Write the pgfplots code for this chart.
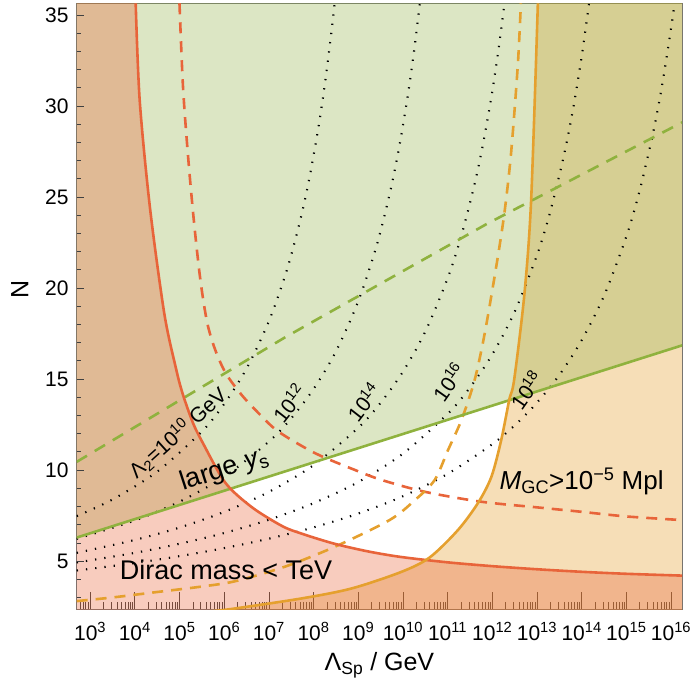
\documentclass[border=0pt]{standalone}
\usepackage{fontspec}
\setmainfont{Liberation Sans}
\usepackage{pgfplots}
\pgfplotsset{compat=1.18}

\definecolor{redl}{RGB}{232,100,58}
\definecolor{orl}{RGB}{229,160,46}
\definecolor{grl}{RGB}{143,178,62}
\definecolor{redf}{RGB}{233,96,52}
\definecolor{grf}{RGB}{146,177,71}
\definecolor{orf}{RGB}{227,155,36}

\def\minorlist{2.5}
\foreach \n in {2,...,16}{\foreach \m in {0.30103,0.47712,0.60206,0.69897,0.77815,0.84510,0.90309,0.95424}{\pgfmathsetmacro\v{\n+\m}\xdef\minorlist{\minorlist,\v}}}

\pgfplotsset{frame/.style={
  at={(0,0)}, anchor=south west, scale only axis,
  width=605.5pt, height=606pt,
  xmin=2.7, xmax=16.25, ymin=2.35, ymax=35.64,
  tick align=inside, tick pos=left,
  tick style={black!75, line width=0.7pt},
  /pgf/number format/assume math mode=true,
  tick label style={font=\fontsize{21}{24}\selectfont},
}}

\begin{document}
\begin{tikzpicture}
\useasboundingbox (-76.7pt,-74.7pt) rectangle (615.3pt,609.3pt);
\begin{axis}[frame,
  axis line style={draw=black!55, line width=0.8pt},
  xtick={3,4,5,6,7,8,9,10,11,12,13,14,15,16},
  xticklabels={10\textsuperscript{3},10\textsuperscript{4},10\textsuperscript{5},10\textsuperscript{6},10\textsuperscript{7},10\textsuperscript{8},10\textsuperscript{9},10\textsuperscript{10},10\textsuperscript{11},10\textsuperscript{12},10\textsuperscript{13},10\textsuperscript{14},10\textsuperscript{15},10\textsuperscript{16}},
  minor xtick/.expanded=\minorlist,
  ytick=\empty,
  major tick length=17pt, minor tick length=7.5pt,
  xticklabel style={anchor=base, inner sep=0pt, yshift=-30.7pt},
  xlabel={Λ\textsubscript{Sp} / GeV},
  ylabel={N},
  label style={font=\fontsize{25}{30}\selectfont},
  xlabel style={at={(axis description cs:0.5,-0.092)}, anchor=center},
  ylabel style={at={(axis description cs:-0.094,0.527)}, anchor=center, rotate=0},
]
% ---- regions ----
\addplot[draw=none, fill=orf, fill opacity=0.33] coordinates {
 (5.5,2.2) (6.11,2.35) (7.74,2.95) (8.86,3.5) (9.97,4.41) (10.6,5.2) (11.23,6.7) (11.68,8.19) (11.98,9.63) (12.2,11.65) (12.38,13.86) (12.49,14.97) (12.72,19.7) (12.87,24.86) (13.02,35.64) (13.03,36.5) (16.5,36.5) (16.5,2.0) (5.5,2.0)} -- cycle;
\addplot[draw=none, fill=grf, fill opacity=0.32] coordinates {
 (2.6,6.21) (16.4,16.97) (16.4,36.5) (2.6,36.5)} -- cycle;
\addplot[draw=none, fill=redf, fill opacity=0.32] coordinates {
 (2.6,36.5) (3.98,36.5) (4.02,35.64) (4.11,30.3) (4.34,24.4) (4.66,18.6) (4.92,15.6) (5.07,14.2) (5.3,12.6) (5.52,11.5) (6.03,9.29) (6.63,7.94) (7.3,6.92) (7.74,6.5) (8.47,5.95) (9.24,5.52) (9.97,5.22) (11,4.93) (12,4.72) (13,4.55) (14,4.41) (15,4.3) (16.25,4.2) (16.5,4.18) (16.5,2.0) (2.6,2.0)} -- cycle;
% ---- dotted contours (Lambda_2 = 10^10 ... 10^18 GeV) ----
\tikzset{dotc/.style={black, line width=2.1pt, dash pattern=on 1.3pt off 8pt}}
\addplot[dotc, smooth] coordinates {(2.7,7.47) (3.5,8.38) (4.5,9.91) (5.5,12.11) (6.0,13.63) (6.5,15.57) (7.0,18.17) (7.4,20.96) (7.7,23.70) (7.9,25.95) (8.1,28.68) (8.25,31.14) (8.4,34.06) (8.471,35.64)};
\addplot[dotc, smooth] coordinates {(2.7,6.22) (4,7.23) (5,8.26) (6,9.63) (7,11.56) (7.5,12.84) (8,14.45) (8.5,16.51) (9,19.27) (9.4,22.23) (9.7,25.13) (9.9,27.52) (10.1,30.42) (10.25,33.03) (10.378,35.64)};
\addplot[dotc, smooth] coordinates {(2.7,5.45) (4,6.16) (5,6.84) (6,7.70) (7,8.80) (8,10.27) (9,12.32) (9.5,13.69) (10,15.4) (10.5,17.6) (11,20.53) (11.3,22.81) (11.6,25.67) (11.8,28.0) (12.0,30.8) (12.15,33.3) (12.272,35.64)};
\addplot[dotc, smooth] coordinates {(2.7,4.92) (4,5.45) (5,5.95) (6,6.54) (7,7.27) (8,8.18) (9,9.34) (10,10.9) (11,13.08) (11.5,14.53) (12,16.35) (12.5,18.69) (13,21.8) (13.3,24.22) (13.6,27.25) (13.8,29.73) (14.0,32.7) (14.165,35.64)};
\addplot[dotc, smooth] coordinates {(2.7,4.48) (4,4.89) (5,5.27) (6,5.71) (7,6.23) (8,6.85) (9,7.61) (10,8.56) (11,9.79) (12,11.42) (12.5,12.45) (13,13.7) (13.5,15.22) (14,17.13) (14.5,19.57) (15,22.83) (15.3,25.37) (15.6,28.54) (15.8,31.14) (16.0,34.25) (16.078,35.64)};
% ---- dashed ----
\addplot[grl, line width=2.6pt, dash pattern=on 12pt off 9pt] coordinates {(2.7,10.45) (7.37,17.3) (11.9,23.55) (16.25,29.1)};
\addplot[redl, line width=2.6pt, dash pattern=on 11pt off 8pt, smooth] coordinates {(5.0,35.64) (5.08,31) (5.2,27) (5.33,23.5) (5.47,20.4) (5.62,18.1) (5.8,16.6) (6.04,15.3) (6.4,14.1) (6.8,13.05) (7.22,12.1) (8.04,10.92) (8.93,10.0) (9.53,9.45) (10.5,8.8) (11.75,8.26) (13,7.95) (13.98,7.71) (15,7.45) (16.25,7.25)};
\addplot[orl, line width=2.6pt, dash pattern=on 11pt off 8pt, smooth] coordinates {(2.7,2.8) (3.5,3.0) (4.5,3.3) (5.5,3.6) (6.26,3.9) (7.37,4.7) (8.49,5.8) (9.7,7.25) (10.27,8.35) (10.71,9.45) (11.01,11.1) (11.31,12.75) (11.6,14.9) (11.83,17.5) (12.09,21.2) (12.27,24.1) (12.42,27.4) (12.57,32.2) (12.64,35.64)};
% ---- solid ----
\addplot[grl, line width=2.6pt] coordinates {(2.7,6.29) (16.25,16.85)};
\addplot[redl, line width=2.6pt, smooth] coordinates {(4.02,35.64) (4.11,30.3) (4.34,24.4) (4.66,18.6) (4.92,15.6) (5.07,14.2) (5.3,12.6) (5.52,11.5) (6.03,9.29) (6.63,7.94) (7.3,6.92) (7.74,6.5) (8.47,5.95) (9.24,5.52) (9.97,5.22) (11,4.93) (12,4.72) (13,4.55) (14,4.41) (15,4.3) (16.25,4.2)};
\addplot[orl, line width=2.6pt, smooth] coordinates {(5.5,2.2) (6.11,2.35) (7.74,2.95) (8.86,3.5) (9.97,4.41) (10.6,5.2) (11.23,6.7) (11.68,8.19) (11.98,9.63) (12.2,11.65) (12.38,13.86) (12.49,14.97) (12.72,19.7) (12.87,24.86) (13.02,35.64)};
% ---- labels ----
\node[font=\fontsize{21}{24}\selectfont, rotate=42] at (axis cs:4.96,12.03) {Λ\textsubscript{2}=10\textsuperscript{10} GeV};
\node[font=\fontsize{21}{24}\selectfont, rotate=52] at (axis cs:7.45,13.68) {10\textsuperscript{12}};
\node[font=\fontsize{21}{24}\selectfont, rotate=52] at (axis cs:9.12,13.74) {10\textsuperscript{14}};
\node[font=\fontsize{21}{24}\selectfont, rotate=55] at (axis cs:11.02,14.85) {10\textsuperscript{16}};
\node[font=\fontsize{21}{24}\selectfont, rotate=55] at (axis cs:12.76,14.4) {10\textsuperscript{18}};
\node[font=\fontsize{27}{30}\selectfont, rotate=18] at (axis cs:6.0,10.0) {large {\itshape y}\textsubscript{s}};
\node[font=\fontsize{27}{30}\selectfont] at (axis cs:6.04,4.53) {Dirac mass < TeV};
\node[font=\fontsize{26}{30}\selectfont] at (axis cs:14.0,9.4) {{\itshape M}\textsubscript{GC}>10\textsuperscript{−5} Mpl};
\end{axis}
\begin{axis}[frame,
  axis line style={draw=none},
  xtick=\empty,
  ytick={5,10,15,20,25,30,35},
  minor ytick={3,4,6,7,8,9,11,12,13,14,16,17,18,19,21,22,23,24,26,27,28,29,31,32,33,34},
  major tick length=7pt, minor tick length=4.5pt,
  yticklabel style={anchor=east, inner sep=0pt, xshift=-8pt},
]
\end{axis}
\end{tikzpicture}
\end{document}
